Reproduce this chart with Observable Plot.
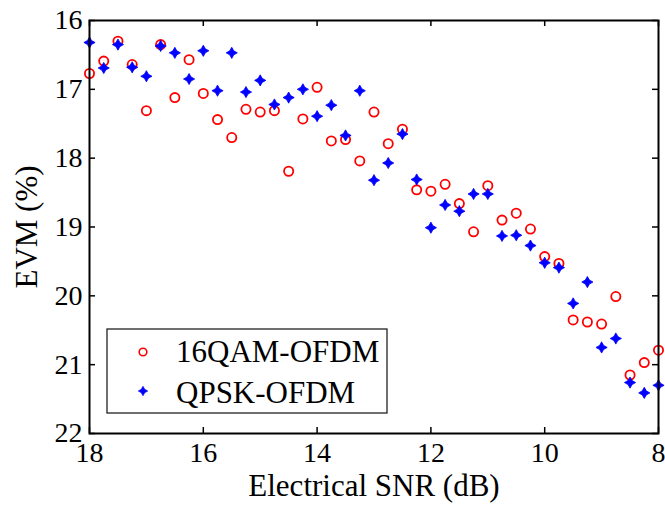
<!DOCTYPE html>
<html>
<head>
<meta charset="utf-8">
<script src="https://cdn.jsdelivr.net/npm/d3@7"></script>
<script src="https://cdn.jsdelivr.net/npm/@observablehq/plot@0.6"></script>
<style>
  html, body { margin: 0; padding: 0; background: #fff; }
  #chart { width: 665px; height: 506px; }
  #chart svg text { font-family: "Times New Roman", Times, "Liberation Serif", Tinos, "DejaVu Serif", "Noto Serif", serif !important; }
</style>
</head>
<body>
<div id="chart"></div>
<script>
const snr = [18, 17.75, 17.5, 17.25, 17, 16.75, 16.5, 16.25, 16, 15.75, 15.5, 15.25, 15, 14.75,
  14.5, 14.25, 14, 13.75, 13.5, 13.25, 13, 12.75, 12.5, 12.25, 12, 11.75, 11.5, 11.25, 11,
  10.75, 10.5, 10.25, 10, 9.75, 9.5, 9.25, 9, 8.75, 8.5, 8.25, 8];
const evm16qam = [16.77, 16.59, 16.30, 16.64, 17.31, 16.35, 17.12, 16.57, 17.06, 17.44, 17.70, 17.29, 17.33, 17.31,
  18.19, 17.43, 16.97, 17.75, 17.73, 18.04, 17.33, 17.79, 17.58, 18.46, 18.48, 18.38, 18.66, 19.07, 18.40,
  18.90, 18.80, 19.03, 19.43, 19.53, 20.35, 20.38, 20.41, 20.01, 21.15, 20.97, 20.79];
const evmQpsk = [16.32, 16.69, 16.35, 16.68, 16.81, 16.37, 16.47, 16.85, 16.44, 17.02, 16.47, 17.04, 16.87, 17.22,
  17.12, 17.00, 17.39, 17.23, 17.67, 17.02, 18.32, 18.07, 17.65, 18.31, 19.01, 18.68, 18.77, 18.52, 18.52,
  19.13, 19.12, 19.27, 19.52, 19.59, 20.11, 19.80, 20.75, 20.62, 21.26, 21.41, 21.30];
const seriesNames = ["16QAM-OFDM", "QPSK-OFDM"];
const xTicks = [18, 16, 14, 12, 10, 8];
const yTicks = [16, 17, 18, 19, 20, 21, 22];

const W = 665, H = 506;
const mL = 89, mR = 7, mT = 20, mB = 73;
const plotW = W - mL - mR, plotH = H - mT - mB;

const qam = snr.map((x, i) => ({x, y: evm16qam[i]}));
const qpsk = snr.map((x, i) => ({x, y: evmQpsk[i]}));

const star4 = {
  draw(ctx, size) {
    const r = Math.sqrt(size / Math.PI);
    const w = r * 0.36;
    ctx.moveTo(0, -r);
    ctx.lineTo(w, -w);
    ctx.lineTo(r, 0);
    ctx.lineTo(w, w);
    ctx.lineTo(0, r);
    ctx.lineTo(-w, w);
    ctx.lineTo(-r, 0);
    ctx.lineTo(-w, -w);
    ctx.closePath();
  }
};

const font = "'Times New Roman', Times, 'Liberation Serif', 'DejaVu Serif', serif";

const chart = Plot.plot({
  width: W, height: H,
  marginLeft: mL, marginRight: mR, marginTop: mT, marginBottom: mB,
  style: {color: "#000", background: "#fff", overflow: "visible"},
  x: {domain: [18, 8]},
  y: {domain: [16, 22], reverse: true},
  marks: [
    Plot.dot(qam, {x: "x", y: "y", r: 4.6, stroke: "#ff0000", strokeWidth: 1.8, fill: "none"}),
    Plot.dot(qpsk, {x: "x", y: "y", r: 5.6, symbol: star4, fill: "#0000ff", stroke: "#0000ff", strokeWidth: 0.8}),
    Plot.ruleY(yTicks, {y: d => d, insetRight: plotW - 6, strokeWidth: 1.5}),
    Plot.ruleY(yTicks, {y: d => d, insetLeft: plotW - 6, strokeWidth: 1.5}),
    Plot.ruleX(xTicks, {x: d => d, insetBottom: plotH - 6, strokeWidth: 1.5}),
    Plot.ruleX(xTicks, {x: d => d, insetTop: plotH - 6, strokeWidth: 1.5}),
    Plot.frame({stroke: "#000", strokeWidth: 2}),
    Plot.axisX({ticks: xTicks, tickFormat: d => String(d), tickSize: 0, tickPadding: 9, fontSize: 28, label: null}),
    Plot.axisX({ticks: [], tickSize: 0, fontSize: 31, label: "Electrical SNR (dB)", labelAnchor: "center", labelArrow: "none", labelOffset: 62}),
    Plot.axisY({ticks: yTicks, tickFormat: d => String(d), tickSize: 0, tickPadding: 7, fontSize: 28, label: null}),
    Plot.axisY({ticks: [], tickSize: 0, fontSize: 31, label: "EVM (%)", labelAnchor: "center", labelArrow: "none", labelOffset: 75})
  ]
});

chart.setAttribute("font-family", font);
document.getElementById("chart").appendChild(chart);

// Legend (inside plot, lower-left)
const svg = d3.select(chart);
const lg = svg.append("g").attr("font-family", font).attr("font-size", 31).attr("text-anchor", "start");
lg.append("rect").attr("x", 107).attr("y", 329).attr("width", 280).attr("height", 84)
  .attr("fill", "#fff").attr("stroke", "#222").attr("stroke-width", 1.3);
lg.append("circle").attr("cx", 143).attr("cy", 352).attr("r", 3.8)
  .attr("fill", "none").attr("stroke", "#ff0000").attr("stroke-width", 1.6);
const sp = d3.path(); star4.draw(sp, 4.8 * 4.8 * Math.PI);
lg.append("path").attr("transform", "translate(143,391)").attr("d", sp.toString())
  .attr("fill", "#0000ff").attr("stroke", "#0000ff").attr("stroke-width", 0.6);
lg.append("text").attr("x", 176).attr("y", 362).attr("fill", "#000").text(seriesNames[0]);
lg.append("text").attr("x", 176).attr("y", 403).attr("fill", "#000").text(seriesNames[1]);
</script>
</body>
</html>
